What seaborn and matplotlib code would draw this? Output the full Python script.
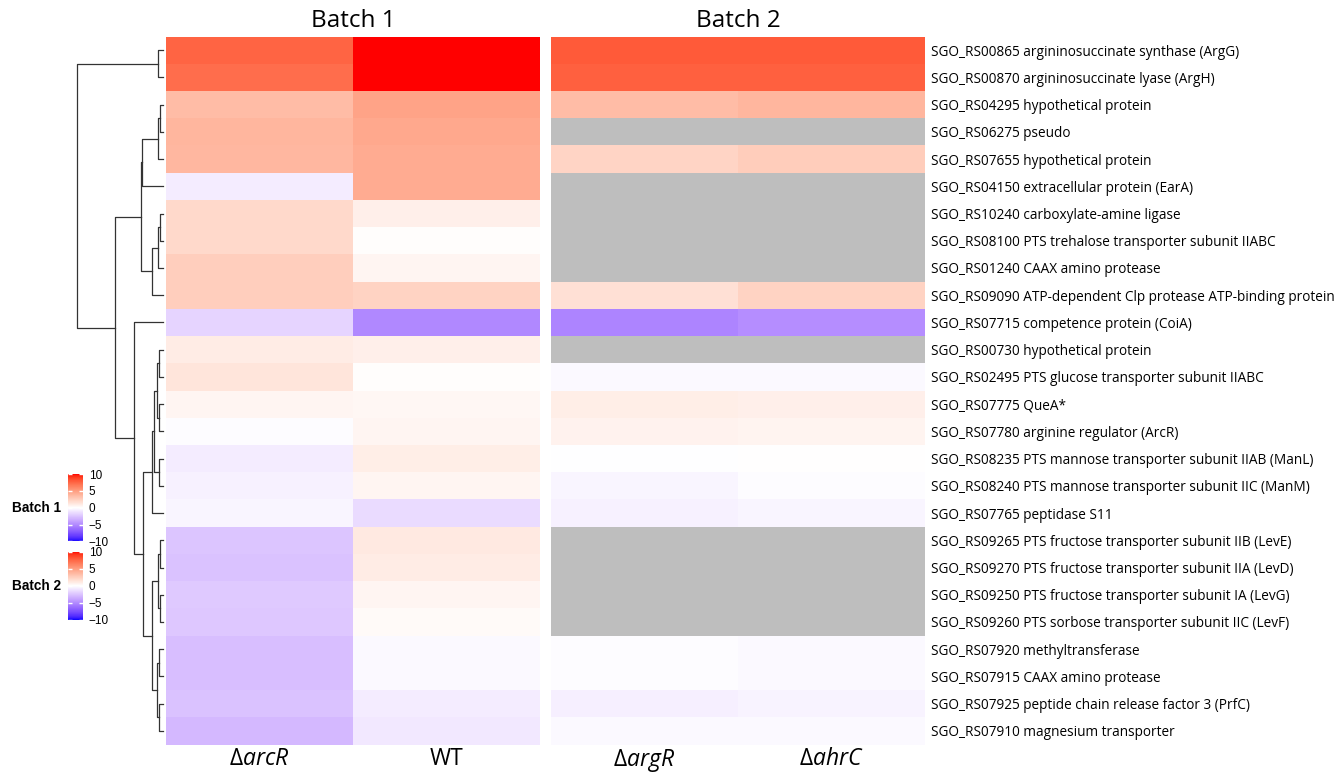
import numpy as np
import pandas as pd
import seaborn as sns
import matplotlib.pyplot as plt
from matplotlib.colors import ListedColormap, Normalize

# Row labels (top to bottom, in clustered order)
genes = [
    'SGO_RS00865 argininosuccinate synthase (ArgG)',
    'SGO_RS00870 argininosuccinate lyase (ArgH)',
    'SGO_RS04295 hypothetical protein',
    'SGO_RS06275 pseudo',
    'SGO_RS07655 hypothetical protein',
    'SGO_RS04150 extracellular protein (EarA)',
    'SGO_RS10240 carboxylate-amine ligase',
    'SGO_RS08100 PTS trehalose transporter subunit IIABC',
    'SGO_RS01240 CAAX amino protease',
    'SGO_RS09090 ATP-dependent Clp protease ATP-binding protein',
    'SGO_RS07715 competence protein (CoiA)',
    'SGO_RS00730 hypothetical protein',
    'SGO_RS02495 PTS glucose transporter subunit IIABC',
    'SGO_RS07775 QueA*',
    'SGO_RS07780 arginine regulator (ArcR)',
    'SGO_RS08235 PTS mannose transporter subunit IIAB (ManL)',
    'SGO_RS08240 PTS mannose transporter subunit IIC (ManM)',
    'SGO_RS07765 peptidase S11',
    'SGO_RS09265 PTS fructose transporter subunit IIB (LevE)',
    'SGO_RS09270 PTS fructose transporter subunit IIA (LevD)',
    'SGO_RS09250 PTS fructose transporter subunit IA (LevG)',
    'SGO_RS09260 PTS sorbose transporter subunit IIC (LevF)',
    'SGO_RS07920 methyltransferase',
    'SGO_RS07915 CAAX amino protease',
    'SGO_RS07925 peptide chain release factor 3 (PrfC)',
    'SGO_RS07910 magnesium transporter',
]

nan = np.nan
# log2 fold changes
arcR = [7.6, 7.2, 3.5, 3.8, 3.7, -0.8, 2.0, 2.0, 2.5, 2.5, -1.8, 1.0, 1.4,
        0.5, -0.1, -0.8, -0.6, -0.4, -2.5, -2.6, -2.3, -2.4, -2.8, -2.8, -2.6, -3.0]
wt = [10.5, 10.5, 4.7, 4.5, 4.3, 4.3, 0.8, 0.1, 0.5, 2.3, -5.1, 0.8, 0.1,
      0.4, 0.5, 0.9, 0.5, -1.5, 1.1, 1.0, 0.5, 0.3, -0.3, -0.3, -0.8, -1.0]
argR = [8.0, 7.8, 3.5, nan, 2.2, nan, nan, nan, nan, 1.6, -5.3, nan, -0.3,
        0.9, 0.7, -0.05, -0.4, -0.6, nan, nan, nan, nan, -0.1, -0.15, -0.7, -0.3]
ahrC = [8.0, 7.8, 3.8, nan, 2.6, nan, nan, nan, nan, 2.3, -4.9, nan, -0.3,
        0.8, 0.6, 0.05, -0.1, -0.4, nan, nan, nan, nan, -0.3, -0.3, -0.5, -0.3]

col_b1 = [r'$\Delta\mathit{arcR}$', 'WT']
col_b2 = [r'$\Delta\mathit{argR}$', r'$\Delta\mathit{ahrC}$']

# row dendrogram: (child a, child b, height); leaves 0..25, merged nodes 26..
merges = [
    (2, 3, 3.5), (26, 4, 5.0), (27, 5, 21.7),
    (6, 7, 3.0), (29, 8, 5.0), (30, 9, 11.7),
    (28, 31, 22.7),
    (11, 12, 4.3), (13, 14, 4.0), (33, 34, 6.5),
    (15, 16, 4.0), (35, 36, 9.5), (37, 17, 11.7),
    (18, 19, 2.7), (20, 21, 2.7), (39, 40, 5.0),
    (22, 23, 3.7), (24, 25, 3.7), (42, 43, 6.0),
    (41, 44, 11.7), (38, 45, 20.3),
    (10, 46, 30.0), (32, 47, 50.0),
    (0, 1, 5.3), (49, 48, 89.0),
]


# blue - white - red ramp interpolated in CIE Lab (like colorRamp2)
def srgb_to_lab(rgb):
    c = np.asarray(rgb, float)
    lin = np.where(c <= 0.04045, c / 12.92, ((c + 0.055) / 1.055) ** 2.4)
    M = np.array([[0.4124, 0.3576, 0.1805], [0.2126, 0.7152, 0.0722], [0.0193, 0.1192, 0.9505]])
    xyz = M @ lin / np.array([0.95047, 1.0, 1.08883])
    f = np.where(xyz > 0.008856, np.cbrt(xyz), 7.787 * xyz + 16 / 116)
    return np.array([116 * f[1] - 16, 500 * (f[0] - f[1]), 200 * (f[1] - f[2])])


def lab_to_srgb(lab):
    L, a, b = lab
    fy = (L + 16) / 116
    f = np.array([fy + a / 500, fy, fy - b / 200])
    xyz = np.where(f ** 3 > 0.008856, f ** 3, (f - 16 / 116) / 7.787) * np.array([0.95047, 1.0, 1.08883])
    Minv = np.array([[3.2406, -1.5372, -0.4986], [-0.9689, 1.8758, 0.0415], [0.0557, -0.2040, 1.0570]])
    lin = np.clip(Minv @ xyz, 0, 1)
    return np.where(lin <= 0.0031308, 12.92 * lin, 1.055 * lin ** (1 / 2.4) - 0.055).clip(0, 1)


blue, white, red = srgb_to_lab([0, 0, 1]), srgb_to_lab([1, 1, 1]), srgb_to_lab([1, 0, 0])
ramp = []
for t in np.linspace(-1, 1, 256):
    if t < 0:
        ramp.append(lab_to_srgb(white + (blue - white) * (-t)))
    else:
        ramp.append(lab_to_srgb(white + (red - white) * t))
cmap = ListedColormap(ramp)

df1 = pd.DataFrame({col_b1[0]: arcR, col_b1[1]: wt}, index=genes)
df2 = pd.DataFrame({col_b2[0]: argR, col_b2[1]: ahrC}, index=genes)

plt.rcParams['mathtext.fontset'] = 'custom'
plt.rcParams['mathtext.rm'] = 'Open Sans'
plt.rcParams['mathtext.it'] = 'Open Sans:italic'

W, H = 1338, 777
fig = plt.figure(figsize=(W / 100, H / 100), dpi=100)


def px_axes(x0, y0, x1, y1):
    return fig.add_axes([x0 / W, 1 - y1 / H, (x1 - x0) / W, (y1 - y0) / H])


top, bottom = 36.5, 744.5
ax1 = px_axes(166, top, 540, bottom)
ax2 = px_axes(551, top, 925, bottom)
axd = px_axes(68, top, 166, bottom)

sns.heatmap(df1, ax=ax1, cmap=cmap, vmin=-10, vmax=10, cbar=False, yticklabels=False)
sns.heatmap(df2, ax=ax2, cmap=cmap, vmin=-10, vmax=10, cbar=False, yticklabels=True)
ax2.set_facecolor('#BEBEBE')

for ax, title in [(ax1, 'Batch 1'), (ax2, 'Batch 2')]:
    ax.set_title(title, fontsize=17.5, family='Open Sans', pad=7)
    ax.set_xlabel('')
    ax.set_ylabel('')
    ax.tick_params(axis='x', length=0, labelsize=16.5, pad=2, rotation=0)

ax2.yaxis.tick_right()
ax2.tick_params(axis='y', length=0, pad=4)
for lab in ax2.get_yticklabels():
    lab.set_rotation(0)
    lab.set_fontsize(9.8)
    lab.set_family('Open Sans')
for lab in ax1.get_xticklabels() + ax2.get_xticklabels():
    lab.set_family('Open Sans')

# dendrogram
pos = {i: (i + 0.5, 0.0) for i in range(len(genes))}
for k, (a, b, h) in enumerate(merges):
    ya, ha = pos[a]
    yb, hb = pos[b]
    axd.plot([ha, h, h, hb], [ya, ya, yb, yb], color='#333333', lw=0.9)
    pos[len(genes) + k] = ((ya + yb) / 2, h)
axd.set_xlim(98, -3)
axd.set_ylim(len(genes), 0)
axd.axis('off')

# legends
norm = Normalize(-10, 10)
for y0, y1, name in [(471.5, 544, 'Batch 1'), (549, 622.5, 'Batch 2')]:
    cax = px_axes(68, y0, 83, y1)
    sm = plt.cm.ScalarMappable(norm=norm, cmap=cmap)
    cb = fig.colorbar(sm, cax=cax, ticks=[-10, -5, 0, 5, 10])
    cb.outline.set_visible(False)
    cax.set_ylim(-10.8, 10.8)
    cax.tick_params(direction='in', length=3, width=1, color='white', left=True, right=True,
                    labelsize=8.5, pad=4)
    for lab in cax.get_yticklabels():
        lab.set_family('Liberation Sans')
    fig.text(37 / W, 1 - (y0 + y1) / 2 / H, name, ha='center', va='center',
             fontsize=9.8, fontweight='bold', family='Liberation Sans')

fig.savefig('out.png', dpi=100)
